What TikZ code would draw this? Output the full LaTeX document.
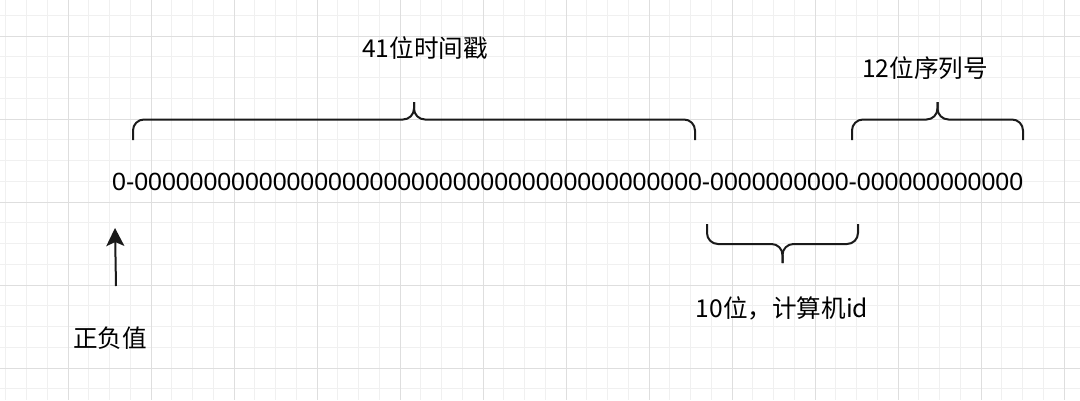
\documentclass[tikz,border=0pt]{standalone}
\usepackage{fontspec}
\setmainfont{Liberation Sans}
\newfontfamily\cjk{Noto Sans CJK SC}
\usetikzlibrary{arrows.meta}
\definecolor{gridminor}{HTML}{F0F0F0}
\definecolor{gridmajor}{HTML}{DEDEDE}
\definecolor{ink}{HTML}{1A1A1A}
\tikzset{
  x=1pt, y=-1pt,
  minorline/.style={draw=gridminor, line width=1pt},
  majorline/.style={draw=gridmajor, line width=1pt},
  bracepath/.style={draw=ink, line width=2pt, rounded corners=11pt},
  bitstext/.style={inner sep=0pt, anchor=base west, font=\fontsize{24.9}{28}\selectfont},
  lab/.style={inner sep=0pt, font=\cjk\fontsize{24.6}{27}\selectfont},
  arr/.style={draw=ink, line width=2pt, -{Stealth[length=18pt, width=18pt, inset=4pt]}}
}
\newcommand\mybrace[5]{% x1, x2, yend, yhoriz, ytip
  \pgfmathsetmacro\xm{(#1+#2)/2}
  \draw[bracepath] (#1,#3) -- (#1,#4) -- (\xm,#4) -- (\xm,#5);
  \draw[bracepath] (#2,#3) -- (#2,#4) -- (\xm,#4) -- (\xm,#5);
}
\def\zz{0000000000}
\begin{document}
\begin{tikzpicture}
\useasboundingbox (0,0) rectangle (1080,400);
\fill[white] (0,0) rectangle (1080,400);
% grid
\foreach \i in {0,...,52} \draw[minorline] ({5.75+20.75*\i},0) -- ({5.75+20.75*\i},400);
\foreach \j in {0,...,19} \draw[minorline] (0,{15.25+20.75*\j}) -- (1080,{15.25+20.75*\j});
\foreach \k in {0,...,12} \draw[majorline] ({68+83*\k},0) -- ({68+83*\k},400);
\foreach \k in {0,...,4} \draw[majorline] (0,{36+83*\k}) -- (1080,{36+83*\k});
% bit string
\node[bitstext] (bits) at (112,190) {0-\zz\zz\zz\zz0-\zz-\zz00};
% braces
\mybrace{133}{695}{140}{119.5}{102}
\mybrace{852}{1023}{140}{119.5}{102}
\mybrace{707}{858}{224}{244}{263}
% labels
\node[lab] (ts) at (425,48) {41位时间戳};
\node[lab] (seq) at (925,68) {12位序列号};
\node[lab] (mid) at (782,308) {10位，计算机id};
\node[lab] (sign) at (110,338) {正负值};
% arrow
\coordinate (sgnfoot) at (116,286);
\coordinate (sgntip) at (115,228);
\draw[arr] (sgnfoot) -- (sgntip);
\end{tikzpicture}
\end{document}
